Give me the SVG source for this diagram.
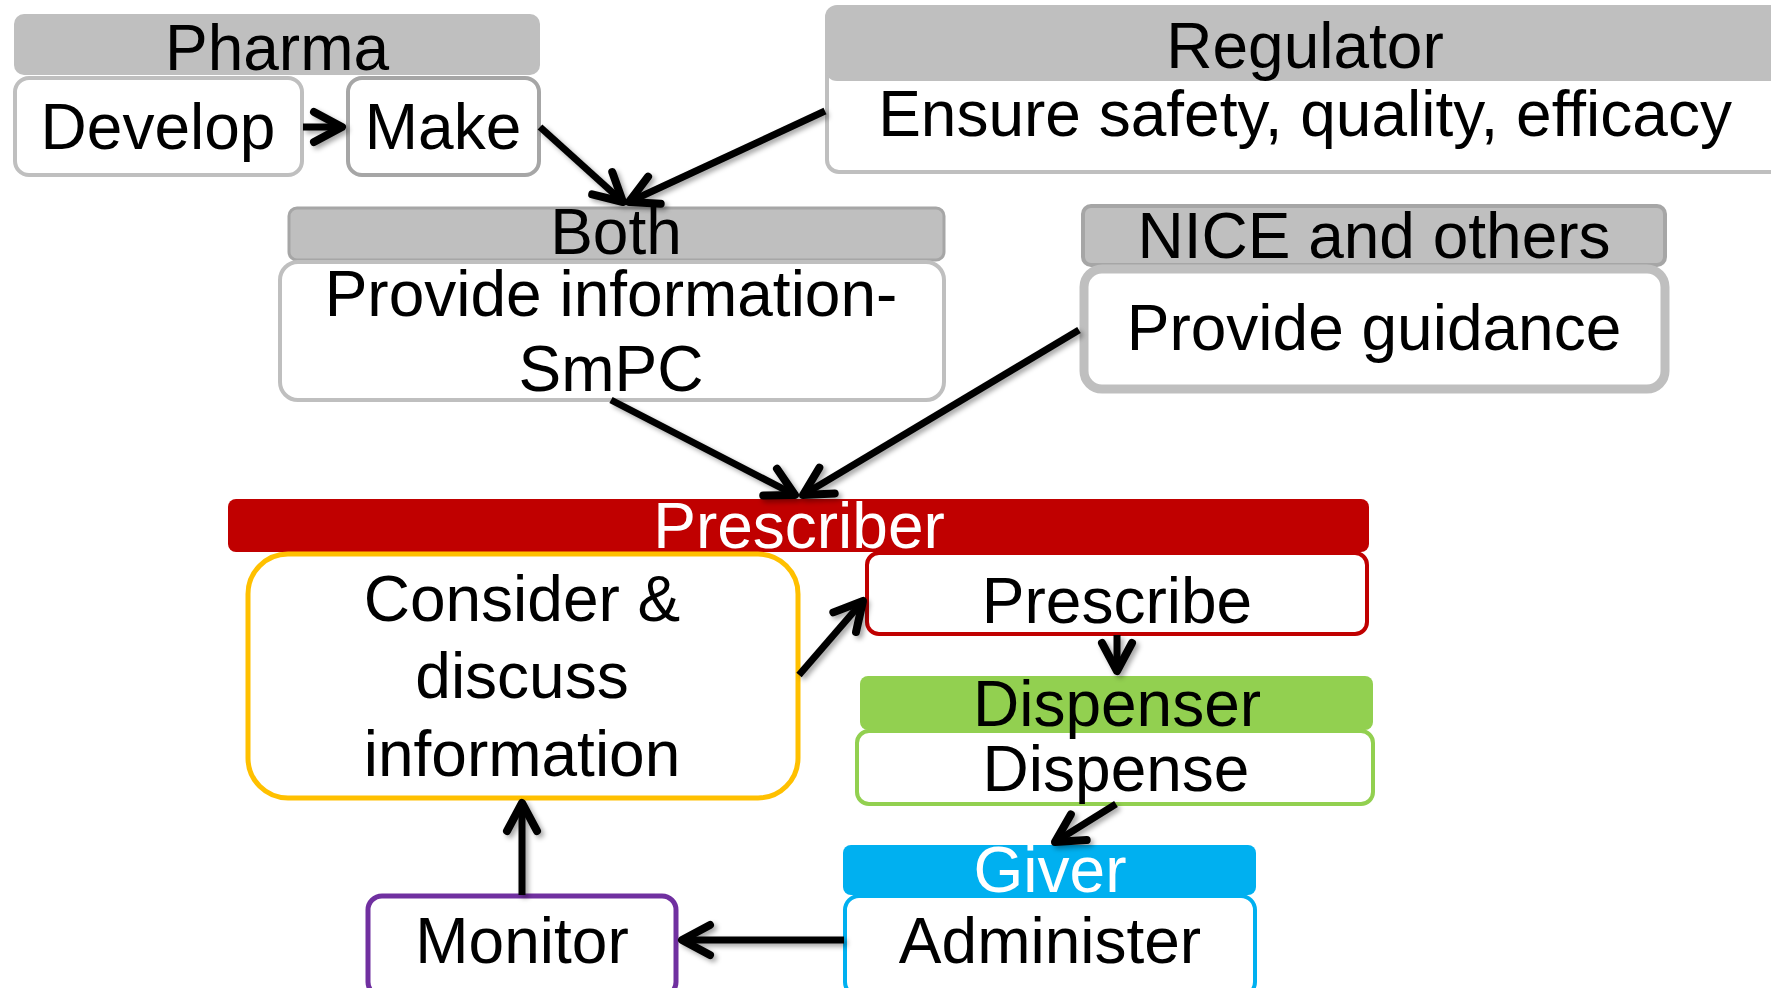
<svg xmlns="http://www.w3.org/2000/svg" width="1771" height="988" viewBox="0 0 1771 988">
<defs>
<style>
text{font-family:"Liberation Sans",Arial,sans-serif;font-size:64px;text-anchor:middle;fill:#000}
.w{fill:#fff}
.hdr{fill:#BFBFBF}
.gbox{fill:#fff;stroke:#BFBFBF;stroke-width:4}
.conn{stroke:#000;stroke-width:7;fill:none;marker-end:url(#ah)}
</style>
<filter id="sh" x="-20%" y="-20%" width="140%" height="140%">
<feDropShadow dx="3" dy="3" stdDeviation="2.5" flood-color="#000" flood-opacity="0.35"/>
</filter>
<marker id="ah" viewBox="-40 -22 46 44" refX="0" refY="0" markerWidth="46" markerHeight="44" orient="auto" markerUnits="userSpaceOnUse">
<path d="M-28,-15 L0,0 L-28,15" fill="none" stroke="#000" stroke-width="8" stroke-linecap="round" stroke-linejoin="round"/>
</marker>
</defs>
<rect width="1771" height="988" fill="#fff"/>

<g id="pharma">
<rect class="hdr" x="14" y="14" width="526" height="61" rx="10"/>
<text x="277" y="70">Pharma</text>
</g>
<g id="develop">
<rect class="gbox" x="15" y="78" width="287" height="97" rx="14"/>
<text x="158" y="149">Develop</text>
</g>
<g id="make">
<rect x="348" y="78" width="191" height="97" rx="14" fill="#fff" stroke="#A6A6A6" stroke-width="4"/>
<text x="443" y="149">Make</text>
</g>
<g id="regulator">
<rect x="827" y="60" width="960" height="112" rx="12" fill="#fff" stroke="#BFBFBF" stroke-width="4"/>
<rect class="hdr" x="825" y="5" width="960" height="76" rx="12"/>
<text x="1305" y="68">Regulator</text>
<text x="1305" y="136">Ensure safety, quality, efficacy</text>
</g>
<g id="both">
<rect x="289" y="208" width="655" height="52" rx="8" fill="#BFBFBF" stroke="#A6A6A6" stroke-width="3"/>
<rect class="gbox" x="280" y="262" width="664" height="138" rx="18"/>
<text x="616" y="254">Both</text>
<text x="611" y="316">Provide information-</text>
<text x="611" y="391">SmPC</text>
</g>
<g id="nice">
<rect x="1083" y="206" width="582" height="59" rx="8" fill="#BFBFBF" stroke="#A6A6A6" stroke-width="4"/>
<rect x="1084" y="269" width="581" height="120" rx="18" fill="#fff" stroke="#BFBFBF" stroke-width="9"/>
<text x="1374" y="258">NICE and others</text>
<text x="1374" y="350">Provide guidance</text>
</g>
<g id="prescriber">
<rect x="228" y="499" width="1141" height="53" rx="8" fill="#C00000"/>
<text class="w" x="799" y="548">Prescriber</text>
</g>
<g id="consider">
<rect x="248" y="554" width="550" height="244" rx="40" fill="#fff" stroke="#FFC000" stroke-width="5"/>
<text x="522" y="621">Consider &amp;</text>
<text x="522" y="698">discuss</text>
<text x="522" y="776">information</text>
</g>
<g id="prescribe">
<rect x="867" y="553" width="500" height="81" rx="12" fill="#fff" stroke="#C00000" stroke-width="4"/>
<text x="1117" y="623">Prescribe</text>
</g>
<g id="dispenser">
<rect x="860" y="676" width="513" height="54" rx="8" fill="#92D050"/>
<rect x="857" y="731" width="516" height="73" rx="12" fill="#fff" stroke="#92D050" stroke-width="4"/>
<text x="1117" y="726">Dispenser</text>
<text x="1116" y="791">Dispense</text>
</g>
<g id="giver">
<rect x="843" y="845" width="413" height="50" rx="8" fill="#00B0F0"/>
<rect x="845" y="896" width="410" height="100" rx="14" fill="#fff" stroke="#00B0F0" stroke-width="4"/>
<text class="w" x="1050" y="892">Giver</text>
<text x="1050" y="963">Administer</text>
</g>
<g id="monitor">
<rect x="368" y="896" width="308" height="100" rx="14" fill="#fff" stroke="#7030A0" stroke-width="5"/>
<text x="522" y="963">Monitor</text>
</g>

<g id="connectors" filter="url(#sh)">
<line class="conn" x1="303" y1="127" x2="342" y2="127"/>
<line class="conn" x1="540" y1="127" x2="623" y2="202"/>
<line class="conn" x1="825" y1="111" x2="629" y2="202"/>
<line class="conn" x1="611" y1="400" x2="795" y2="495"/>
<line class="conn" x1="1079" y1="330" x2="803" y2="495"/>
<line class="conn" x1="799" y1="675" x2="863" y2="601"/>
<line class="conn" x1="1117" y1="635" x2="1117" y2="671"/>
<line class="conn" x1="1116" y1="804" x2="1055" y2="842"/>
<line class="conn" x1="844" y1="940" x2="682" y2="940"/>
<line class="conn" x1="522" y1="895" x2="522" y2="803"/>
</g>
</svg>
